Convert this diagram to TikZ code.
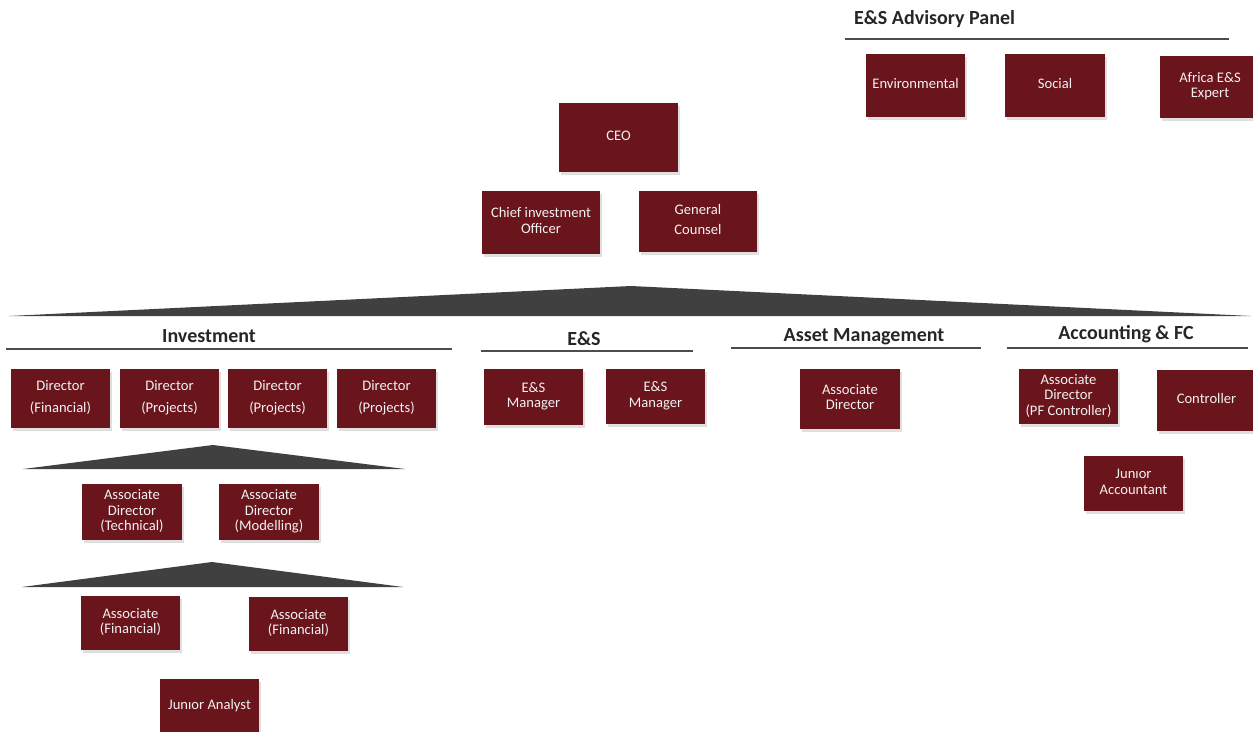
\documentclass[tikz,border=0pt]{standalone}
\usepackage{fontspec}
\setmainfont{Carlito}
\usetikzlibrary{shadows}

\definecolor{boxred}{RGB}{106,20,27}
\definecolor{headtext}{RGB}{38,38,38}
\definecolor{rulegray}{RGB}{77,77,77}
\definecolor{roofgray}{RGB}{64,64,64}

% box text, set a little above the geometric centre
\newcommand\lift[2][2pt]{\raisebox{#1}{\begin{tabular}{@{}c@{}}#2\end{tabular}}}

\tikzset{
  role/.style={fill=boxred, text=white!95!black, align=center, inner sep=0pt,
    font=\fontsize{14.6}{15.5}\selectfont,
    drop shadow={opacity=0.25, shadow xshift=1.5pt, shadow yshift=-2.5pt}},
  unit/.style={text=headtext, font=\fontsize{20}{24}\selectfont\bfseries, inner sep=0pt},
  unitrule/.style={draw=rulegray, line width=2.3pt},
  roof/.style={fill=roofgray, draw=none},
}

\begin{document}
\begin{tikzpicture}[x=1pt, y=-1pt]
\useasboundingbox (0,0) rectangle (1253,731);

% --- advisory panel -------------------------------------------------
\node[unit] (panel) at (934.5,19) {E\&S Advisory Panel};
\draw[unitrule] (845,39) -- (1229,39);
\node[role, minimum width=99pt, minimum height=63pt] (env) at (915.5,85.5) {\lift{Environmental}};
\node[role, minimum width=100pt, minimum height=63pt] (soc) at (1055,85.5) {\lift{Social}};
\node[role, minimum width=100pt, minimum height=62pt] (afr) at (1210,87) {\lift{Africa E\&S\\Expert}};

% --- executive ------------------------------------------------------
\node[role, minimum width=119pt, minimum height=69pt] (ceo) at (618.5,137.5) {\lift[4pt]{CEO}};
\node[role, minimum width=118pt, minimum height=63pt] (cio) at (541,222.5) {\lift{Chief investment\\Officer}};
\node[role, minimum width=118pt, minimum height=61pt] (gc) at (698,221.5) {\lift{General\\[5pt]Counsel}};

% roof over the departments
\fill[roof] (9,316) -- (631,286) -- (1251,316) -- cycle;

% --- investment -----------------------------------------------------
\node[unit] (inv) at (209,336) {Investment};
\draw[unitrule] (6,349) -- (452,349);
\node[role, minimum width=99pt, minimum height=59pt] (d1) at (60.5,398.5) {\lift{Director\\[6pt](Financial)}};
\node[role, minimum width=99pt, minimum height=59pt] (d2) at (169.5,398.5) {\lift{Director\\[6pt](Projects)}};
\node[role, minimum width=99pt, minimum height=59pt] (d3) at (277.5,398.5) {\lift{Director\\[6pt](Projects)}};
\node[role, minimum width=99pt, minimum height=59pt] (d4) at (386.5,398.5) {\lift{Director\\[6pt](Projects)}};

\fill[roof] (23,469) -- (213,445) -- (405,469) -- cycle;
\node[role, minimum width=100pt, minimum height=56pt] (adt) at (132,512) {\lift{Associate\\Director\\(Technical)}};
\node[role, minimum width=100pt, minimum height=56pt] (adm) at (269,512) {\lift{Associate\\Director\\(Modelling)}};

\fill[roof] (22,587) -- (212,562) -- (403,587) -- cycle;
\node[role, minimum width=99pt, minimum height=54pt] (af1) at (130.5,623) {\lift{Associate\\(Financial)}};
\node[role, minimum width=99pt, minimum height=54pt] (af2) at (298.5,624) {\lift{Associate\\(Financial)}};
\node[role, minimum width=99pt, minimum height=60pt] (ja) at (209.5,709) {\lift[9pt]{Junıor Analyst}};

% --- E&S ------------------------------------------------------------
\node[unit] (es) at (584,339) {E\&S};
\draw[unitrule] (481,351) -- (693,351);
\node[role, minimum width=99pt, minimum height=56pt] (es1) at (533.5,397) {\lift{E\&S\\Manager}};
\node[role, minimum width=99pt, minimum height=55pt] (es2) at (655.5,396.5) {\lift[4pt]{E\&S\\Manager}};

% --- asset management -----------------------------------------------
\node[unit] (am) at (864,337) {Asset Management};
\draw[unitrule] (731,348) -- (981,348);
\node[role, minimum width=100pt, minimum height=60pt] (amd) at (850,399) {\lift{Associate\\Director}};

% --- accounting -----------------------------------------------------
\node[unit] (acc) at (1126,334) {Accounting \& FC};
\draw[unitrule] (1007,348) -- (1248,348);
\node[role, minimum width=99pt, minimum height=55pt] (pfc) at (1068.5,396.5) {\lift{Associate\\Director\\(PF Controller)}};
\node[role, minimum width=99pt, minimum height=61pt] (ctl) at (1206.5,400.5) {\lift{Controller}};
\node[role, minimum width=99pt, minimum height=55pt] (jac) at (1133.5,483.5) {\lift{Junıor\\Accountant}};
\end{tikzpicture}
\end{document}
